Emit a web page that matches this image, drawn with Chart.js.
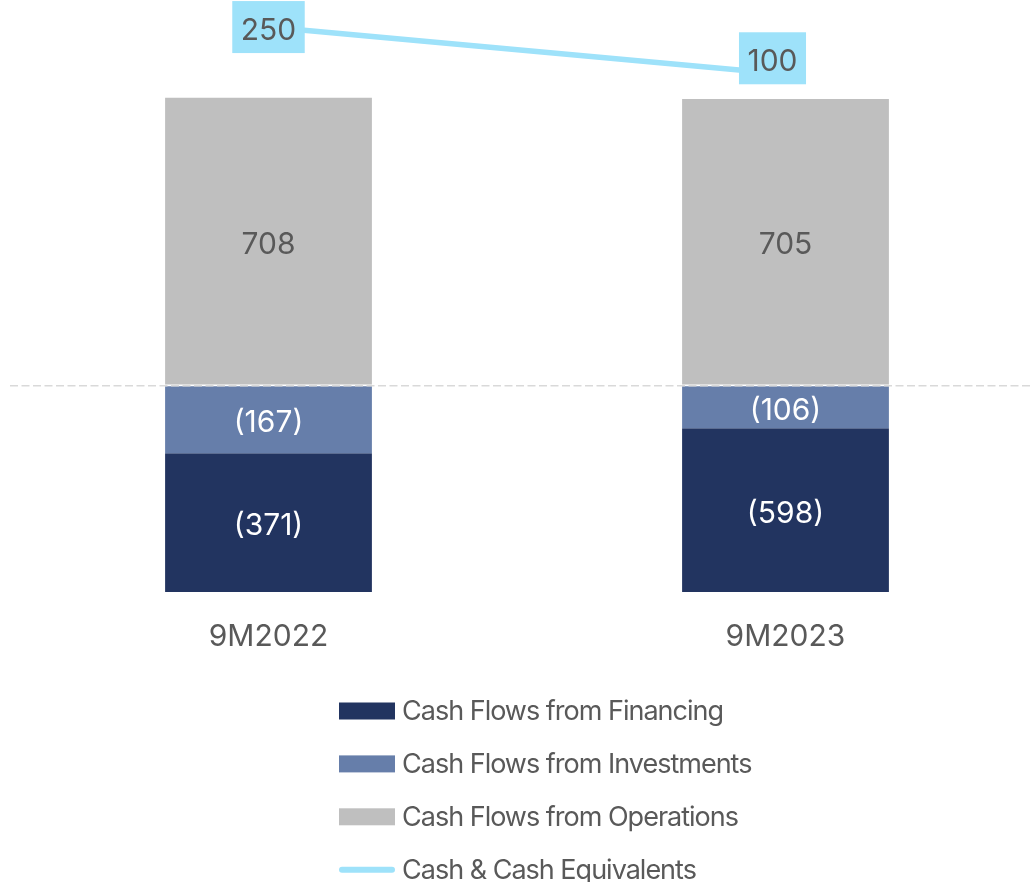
<!DOCTYPE html>
<html>
<head>
<meta charset="utf-8">
<title>Cash Flows 9M2022 vs 9M2023</title>
<script src="https://cdn.jsdelivr.net/npm/chart.js@4.4.1/dist/chart.umd.min.js"></script>
<style>
  html, body { margin: 0; padding: 0; overflow: hidden; background: #ffffff; }
  #wrap { position: relative; width: 1044px; height: 882px; }
</style>
</head>
<body>
<div id="wrap"><canvas id="cashChart"></canvas></div>
<script>
// Periods on the category axis
const periods = ['9M2022', '9M2023'];

// Cash flow components (stacked bars)
const financing = [-371, -598];
const investments = [-167, -106];
const operations = [708, 705];

// Closing cash position (line)
const cashEquivalents = [250, 100];

// Series names shown in the legend
const seriesNames = [
  'Cash Flows from Financing',
  'Cash Flows from Investments',
  'Cash Flows from Operations',
  'Cash & Cash Equivalents'
];

const FONT = 'Inter, "Noto Sans", sans-serif';
const GREY_TEXT = '#595959';

const fmt = v => (v < 0 ? '(' + Math.abs(v) + ')' : String(v));

// Writes the value inside each bar segment and in a tag on each line point
const valueLabels = {
  id: 'valueLabels',
  afterDatasetsDraw(chart, args, opts) {
    const { ctx, chartArea } = chart;
    ctx.save();
    ctx.font = opts.size + 'px ' + FONT;
    ctx.textAlign = 'center';
    ctx.textBaseline = 'middle';
    chart.data.datasets.forEach((ds, di) => {
      const meta = chart.getDatasetMeta(di);
      meta.data.forEach((el, i) => {
        const v = ds.data[i];
        const txt = fmt(v);
        if (meta.type === 'bar') {
          const top = Math.max(Math.min(el.y, el.base), chartArea.top);
          const bot = Math.min(Math.max(el.y, el.base), chartArea.bottom);
          ctx.fillStyle = ds.labelColor;
          ctx.fillText(txt, el.x, (top + bot) / 2 + opts.nudge);
        } else {
          const shift = ds.labelShift[i];
          const w = ctx.measureText(txt).width + 2 * opts.tagPadX;
          const h = opts.tagHeight;
          const cx = el.x + shift[0];
          const cy = el.y + shift[1];
          ctx.fillStyle = ds.borderColor;
          ctx.fillRect(cx - w / 2, cy - h / 2, w, h);
          ctx.fillStyle = ds.labelColor;
          ctx.fillText(txt, cx, cy + opts.nudge);
        }
      });
    });
    ctx.restore();
  }
};

// Single-column legend under the axis labels
const columnLegend = {
  id: 'columnLegend',
  afterDraw(chart, args, opts) {
    const { ctx } = chart;
    ctx.save();
    ctx.font = opts.size + 'px ' + FONT;
    ctx.letterSpacing = opts.tracking;
    ctx.textAlign = 'left';
    ctx.textBaseline = 'middle';
    chart.data.datasets.forEach((ds, i) => {
      const cy = opts.top + i * opts.rowGap;
      if (ds.type === 'line') {
        ctx.strokeStyle = ds.borderColor;
        ctx.lineWidth = 6;
        ctx.lineCap = 'round';
        ctx.beginPath();
        ctx.moveTo(opts.left + 3, cy);
        ctx.lineTo(opts.left + opts.boxW - 3, cy);
        ctx.stroke();
      } else {
        ctx.fillStyle = ds.backgroundColor;
        ctx.fillRect(opts.left, cy - opts.boxH / 2, opts.boxW, opts.boxH);
      }
      ctx.fillStyle = GREY_TEXT;
      ctx.fillText(ds.label, opts.left + opts.boxW + opts.gap, cy + opts.nudge);
    });
    ctx.restore();
  }
};

new Chart(document.getElementById('cashChart'), {
  data: {
    labels: periods,
    datasets: [
      {
        type: 'bar', label: seriesNames[0], data: financing,
        backgroundColor: '#223460', labelColor: '#ffffff',
        order: 2, yAxisID: 'y'
      },
      {
        type: 'bar', label: seriesNames[1], data: investments,
        backgroundColor: '#667eaa', labelColor: '#ffffff',
        order: 1, yAxisID: 'y'
      },
      {
        type: 'bar', label: seriesNames[2], data: operations,
        backgroundColor: '#bfbfbf', labelColor: GREY_TEXT,
        order: 3, yAxisID: 'y'
      },
      {
        type: 'line', label: seriesNames[3], data: cashEquivalents,
        borderColor: '#9ee2fa', backgroundColor: '#9ee2fa', labelColor: GREY_TEXT,
        borderWidth: 5.5, pointRadius: 0, pointHoverRadius: 0, tension: 0,
        labelShift: [[0, 0], [-13, -16]],
        order: 0, yAxisID: 'y1'
      }
    ]
  },
  options: {
    responsive: true,
    maintainAspectRatio: false,
    devicePixelRatio: 1,
    animation: false,
    datasets: { bar: { barPercentage: 0.4, categoryPercentage: 1.0, borderWidth: 0 } },
    layout: { padding: { left: 10, right: 0, top: 0, bottom: 210 } },
    scales: {
      x: {
        stacked: true,
        grid: { display: false, drawTicks: false },
        border: { display: false },
        ticks: { color: GREY_TEXT, font: { family: FONT, size: 30 }, padding: 27 },
        afterFit: s => { s.height = 80; }
      },
      y: {
        stacked: true,
        min: -509, max: 949,
        ticks: { display: false, stepSize: 100 },
        border: { display: false, dash: [8, 3.5] },
        grid: {
          drawTicks: false, z: 1, lineWidth: 1.6,
          color: c => (c.tick && c.tick.value === 0 ? '#d9d9d9' : 'rgba(0,0,0,0)')
        }
      },
      y1: {
        display: false,
        min: -1545, max: 336
      }
    },
    plugins: {
      legend: { display: false },
      tooltip: { enabled: false },
      valueLabels: { size: 30, nudge: 3.5, tagPadX: 8.5, tagHeight: 52 },
      columnLegend: { left: 339, top: 711, rowGap: 52.9, boxW: 56, boxH: 17, gap: 7, size: 27, nudge: 1, tracking: '-1px' }
    }
  },
  plugins: [valueLabels, columnLegend]
});
</script>
</body>
</html>
